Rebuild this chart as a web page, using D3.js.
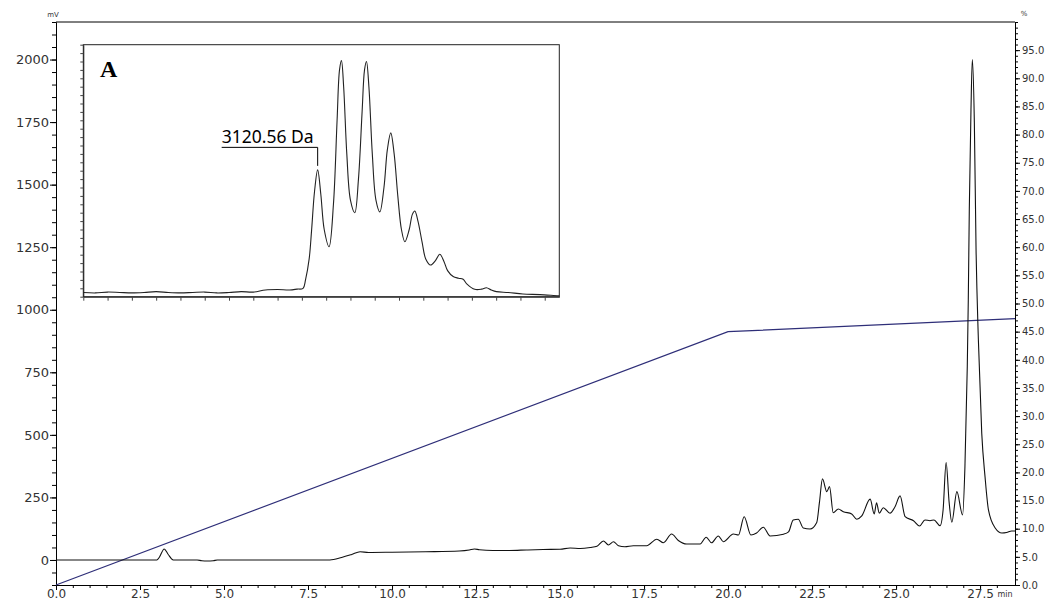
<!DOCTYPE html>
<html>
<head>
<meta charset="utf-8">
<script src="https://cdn.jsdelivr.net/npm/d3@7"></script>
<style>
  body { margin: 0; background: #fff; }
  svg { display: block; }
</style>
</head>
<body>
<svg id="chart" width="1046" height="601"></svg>
<script>
// Chromatogram: retention time (min) and detector signal (mV)
const retentionTime = [
  0, 3.0, 3.08, 3.22, 3.33, 3.49, 4.2, 4.34, 4.5, 4.68,
  4.8, 8.15, 8.5, 8.8, 9.05, 9.3, 10.0, 11.0, 12.0, 12.3,
  12.45, 12.6, 13.0, 13.5, 14.0, 14.5, 15.0, 15.3, 15.6, 15.9,
  16.1, 16.29, 16.44, 16.59, 16.74, 16.93, 17.18, 17.58, 17.88, 18.08,
  18.32, 18.52, 18.77, 19.17, 19.35, 19.51, 19.71, 19.86, 20.16, 20.31,
  20.48, 20.68, 20.85, 21.05, 21.25, 21.65, 21.8, 21.94, 22.09, 22.24,
  22.44, 22.64, 22.72, 22.81, 22.94, 23.02, 23.13, 23.28, 23.43, 23.68,
  23.83, 23.98, 24.23, 24.35, 24.42, 24.5, 24.62, 24.82, 24.97, 25.12,
  25.27, 25.52, 25.7, 25.86, 26.01, 26.13, 26.31, 26.4, 26.49, 26.58,
  26.66, 26.81, 26.98, 27.05, 27.12, 27.15, 27.18, 27.23, 27.27, 27.33,
  27.38, 27.45, 27.55, 27.65, 27.75, 27.95, 28.15, 28.29, 28.44, 28.54
];
const signalMv = [
  0, 0, 12, 44, 24, 0, 0, -3, -4, -3,
  0, 0, 10, 22, 33, 30, 31, 33, 36, 40,
  44, 41, 38, 38, 40, 42, 43, 48, 46, 50,
  55, 76, 60, 73, 57, 53, 57, 57, 83, 69,
  104, 78, 64, 64, 91, 69, 96, 73, 104, 100,
  173, 100, 108, 131, 96, 103, 112, 160, 163, 128,
  124, 150, 230, 324, 273, 293, 189, 204, 193, 184,
  163, 176, 243, 184, 229, 187, 209, 187, 213, 256,
  173, 157, 136, 160, 157, 160, 137, 200, 389, 230,
  151, 273, 180, 373, 773, 1040, 1400, 1800, 2000, 1750,
  1250, 880, 507, 330, 200, 128, 108, 110, 116, 116
];

// Mobile-phase gradient (% B)
const gradientTime = [0, 20, 28.54];
const gradientPercent = [0, 45, 47.3];

// Axis ticks
const mvTicks = [0, 250, 500, 750, 1000, 1250, 1500, 1750, 2000];
const percentTicks = [0, 5, 10, 15, 20, 25, 30, 35, 40, 45, 50, 55, 60, 65, 70, 75, 80, 85, 90, 95];
const timeTicks = [0, 2.5, 5, 7.5, 10, 12.5, 15, 17.5, 20, 22.5, 25, 27.5];

// Inset (A): mass spectrum profile
const insetPosition = [
  0, 0.5, 1.0, 1.5, 2.0, 2.5, 3.0, 3.5, 4.0, 4.5,
  5.0, 5.5, 6.0, 6.5, 7.0, 7.5, 8.0, 8.5,
  8.8, 9.05, 9.15, 9.3, 9.4, 9.52, 9.65, 9.78, 9.92, 10.12,
  10.3, 10.45, 10.55, 10.63, 10.72, 10.85, 11.0, 11.18,
  11.33, 11.48, 11.58, 11.66, 11.76, 11.9, 12.05, 12.21,
  12.38, 12.52, 12.66, 12.8, 12.95, 13.1, 13.24,
  13.42, 13.55, 13.65, 13.78, 13.95, 14.1, 14.3,
  14.5, 14.68, 14.85, 15.0, 15.23, 15.45, 15.64, 15.8, 16.12,
  16.4, 16.6, 16.8, 17.01, 17.5, 18.1, 18.8, 19.55, 19.6
];
const insetIntensity = [
  0.5, 0.45, 0.55, 0.5, 0.45, 0.5, 0.6, 0.5, 0.45, 0.5,
  0.55, 0.45, 0.5, 0.6, 0.55, 0.8, 0.85, 0.8,
  0.9, 1.0, 2.0, 4.5, 7.9, 12.5, 15.1, 12.2, 8.0, 5.95,
  11, 21, 27, 28.1, 25, 17, 11.5, 10,
  14, 22, 27, 28, 25, 17, 11.5, 10.1,
  13, 17.5, 19.5, 17, 12, 8, 6.55,
  8, 9.8, 10.2, 9, 6.5, 4.5, 3.77,
  4.3, 5.05, 4.2, 3.1, 2.4, 2.2, 2.07, 1.5, 0.88,
  0.9, 1.07, 0.8, 0.6, 0.5, 0.32, 0.25, 0.12, 0.12
];
const insetPanelLabel = "A";
const insetPeakLabel = "3120.56 Da";
const insetPeakPosition = 9.65;
const insetPeakIntensity = 15.1;

const svg = d3.select("#chart");
const plotLeft = 56, plotRight = 1015, plotTop = 22, plotBottom = 585;

const x = d3.scaleLinear().domain([0, 28.54]).range([plotLeft, plotRight]);
const yMv = d3.scaleLinear().domain([-100, 2150]).range([plotBottom, plotTop]);
const yPct = d3.scaleLinear().domain([0, 100]).range([plotBottom, plotTop]);

const labelColor = "#333";

function styleAxis(g) {
  g.select(".domain").attr("stroke", "#000").attr("stroke-width", 1);
  g.selectAll(".tick line").attr("stroke", "#000");
  g.selectAll("text").attr("fill", labelColor).attr("font-family", "DejaVu Sans, sans-serif");
}

// Minor ticks
svg.append("g").attr("transform", `translate(${plotLeft},0)`)
  .call(d3.axisLeft(yMv).tickValues(d3.range(-100, 2151, 50)).tickSize(4).tickSizeOuter(0).tickFormat(""))
  .call(styleAxis);
svg.append("g").attr("transform", `translate(${plotRight},0)`)
  .call(d3.axisRight(yPct).tickValues(d3.range(0, 101, 1)).tickSize(3).tickSizeOuter(0).tickFormat(""))
  .call(styleAxis);
svg.append("g").attr("transform", `translate(0,${plotBottom})`)
  .call(d3.axisBottom(x).tickValues(d3.range(0, 28.5, 0.5)).tickSize(3).tickSizeOuter(0).tickFormat(""))
  .call(styleAxis);

// Major ticks with labels
const gLeft = svg.append("g").attr("transform", `translate(${plotLeft},0)`)
  .call(d3.axisLeft(yMv).tickValues(mvTicks).tickSize(6).tickSizeOuter(0).tickFormat(d3.format("d")))
  .call(styleAxis);
gLeft.selectAll("text").attr("font-size", 13).attr("x", -7);

const gRight = svg.append("g").attr("transform", `translate(${plotRight},0)`)
  .call(d3.axisRight(yPct).tickValues(percentTicks).tickSize(5).tickSizeOuter(0).tickFormat(d3.format(".1f")))
  .call(styleAxis);
gRight.selectAll("text").attr("font-size", 10).attr("x", 7);

const gBottom = svg.append("g").attr("transform", `translate(0,${plotBottom})`)
  .call(d3.axisBottom(x).tickValues(timeTicks).tickSize(5).tickSizeOuter(0).tickFormat(d3.format(".1f")))
  .call(styleAxis);
gBottom.selectAll("text").attr("font-size", 12).attr("y", 13).attr("dy", 0);

// Top frame line
svg.append("line").attr("x1", plotLeft).attr("x2", plotRight).attr("y1", plotTop).attr("y2", plotTop)
  .attr("stroke", "#000").attr("stroke-width", 1);

// Unit labels
svg.append("text").attr("x", plotLeft - 3).attr("y", 17).attr("text-anchor", "middle")
  .attr("font-family", "DejaVu Sans, sans-serif").attr("font-size", 7).attr("fill", labelColor).text("mV");
svg.append("text").attr("x", plotRight + 9).attr("y", 16).attr("text-anchor", "middle")
  .attr("font-family", "DejaVu Sans, sans-serif").attr("font-size", 7).attr("fill", labelColor).text("%");
svg.append("text").attr("x", 1005).attr("y", 597).attr("text-anchor", "middle")
  .attr("font-family", "DejaVu Sans, sans-serif").attr("font-size", 8).attr("fill", labelColor).text("min");

// Gradient line
svg.append("path")
  .datum(d3.zip(gradientTime, gradientPercent))
  .attr("fill", "none").attr("stroke", "#2e2e78").attr("stroke-width", 1.2)
  .attr("d", d3.line().x(d => x(d[0])).y(d => yPct(d[1])));

// Chromatogram trace
svg.append("path")
  .datum(d3.zip(retentionTime, signalMv))
  .attr("fill", "none").attr("stroke", "#111").attr("stroke-width", 1.1)
  .attr("stroke-linejoin", "round")
  .attr("d", d3.line().curve(d3.curveMonotoneX).x(d => x(d[0])).y(d => yMv(d[1])));

// Inset panel
const inLeft = 83.3, inRight = 559.3, inTop = 44.7, inBottom = 296.7;
const ix = d3.scaleLinear().domain([0, 19.6]).range([inLeft, inRight]);
const iy = d3.scaleLinear().domain([0, 30]).range([inBottom, inTop]);

svg.append("rect").attr("x", inLeft).attr("y", inTop)
  .attr("width", inRight - inLeft).attr("height", inBottom - inTop)
  .attr("fill", "#fff").attr("stroke", "#222").attr("stroke-width", 1);

svg.append("g").attr("transform", `translate(${inLeft},0)`)
  .call(d3.axisLeft(iy).tickValues(d3.range(0, 31, 1)).tickSize(3).tickSizeOuter(0).tickFormat(""))
  .call(g => { g.select(".domain").attr("stroke", "#222"); g.selectAll(".tick line").attr("stroke", "#444"); });
svg.append("g").attr("transform", `translate(0,${inBottom})`)
  .call(d3.axisBottom(ix).tickValues(d3.range(0, 19.6, 1)).tickSize(4).tickSizeOuter(0).tickFormat(""))
  .call(g => { g.select(".domain").attr("stroke", "#222"); g.selectAll(".tick line").attr("stroke", "#444"); });

svg.append("path")
  .datum(d3.zip(insetPosition, insetIntensity))
  .attr("fill", "none").attr("stroke", "#222").attr("stroke-width", 1.1)
  .attr("stroke-linejoin", "round")
  .attr("d", d3.line().curve(d3.curveCatmullRom.alpha(0.5)).x(d => ix(d[0])).y(d => iy(d[1])));

svg.append("text").attr("x", 100).attr("y", 77)
  .attr("font-family", "Liberation Serif, serif").attr("font-weight", "bold").attr("font-size", 24)
  .attr("fill", "#000").text(insetPanelLabel);

// Peak annotation with leader line
const px = ix(insetPeakPosition), py = iy(insetPeakIntensity);
svg.append("path")
  .attr("d", `M${px - 96},${py - 22.5}H${px}V${py - 4}`)
  .attr("fill", "none").attr("stroke", "#000").attr("stroke-width", 1);
svg.append("text").attr("x", px - 96).attr("y", py - 27)
  .attr("font-family", "Noto Sans, sans-serif").attr("font-size", 17.5)
  .attr("fill", "#000").text(insetPeakLabel);
</script>
</body>
</html>
